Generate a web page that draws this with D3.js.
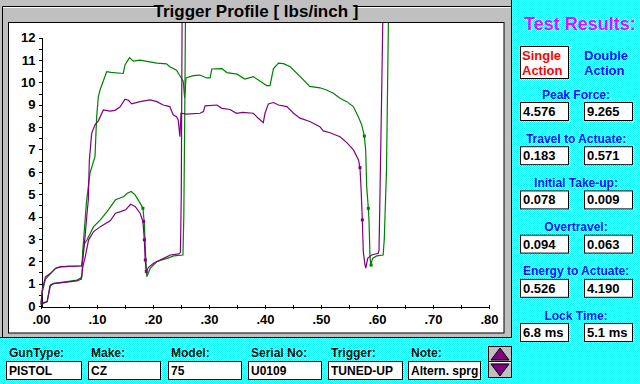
<!DOCTYPE html>
<meta charset="utf-8">
<style>
body { margin: 0; background: #fff; }
svg { display: block; font-family: "Liberation Sans", Arial, sans-serif; }
.axis text { font-size: 13px; font-weight: bold; fill: #000; }
.axis path, .axis line { stroke: #000; stroke-width: 1px; shape-rendering: crispEdges; }
</style>
<body>
<script src="https://d3js.org/d3.v7.min.js"></script>
<script>
// traces: [travel inch, force lbs]
var purpleSA = [[0,0.1],[0.005,0.15],[0.011,0.2],[0.016,0.9],[0.022,1.0],[0.046,1.07],[0.064,1.12],[0.072,1.2],[0.075,1.8],[0.079,2.2],[0.085,2.96],[0.094,3.33],[0.106,3.55],[0.124,3.82],[0.133,4.15],[0.142,4.22],[0.151,4.3],[0.16,4.55],[0.168,4.45],[0.177,4.15],[0.182,3.78],[0.1845,2.96],[0.186,2.06],[0.188,1.54],[0.192,1.73],[0.201,1.91],[0.219,2.13],[0.231,2.28],[0.246,2.33],[0.249,2.4],[0.2505,5],[0.252,13]];
var greenSA = [[0,0.05],[0.005,0.12],[0.011,0.19],[0.017,0.94],[0.023,1.01],[0.046,1.09],[0.064,1.16],[0.07,1.24],[0.073,1.31],[0.075,2.5],[0.078,2.8],[0.082,2.95],[0.094,3.55],[0.106,3.85],[0.118,4.22],[0.133,4.75],[0.148,4.9],[0.154,5.04],[0.161,5.12],[0.168,4.97],[0.177,4.6],[0.182,4.37],[0.1845,3.7],[0.187,2.2],[0.189,1.31],[0.195,1.69],[0.207,1.99],[0.225,2.13],[0.237,2.24],[0.2535,2.28],[0.255,4],[0.2565,8],[0.258,13]];
var purpleDA = [[0,0.05],[0.002,0.7],[0.008,1.3],[0.017,1.46],[0.026,1.69],[0.035,1.76],[0.05,1.77],[0.073,1.79],[0.076,2.4],[0.079,3.2],[0.082,4.1],[0.0845,4.74],[0.0863,6.5],[0.0905,7.72],[0.0964,8.1],[0.1024,8.28],[0.1113,8.77],[0.1232,8.72],[0.132,8.75],[0.141,8.9],[0.15,9.25],[0.156,9.2],[0.162,9.04],[0.177,9.14],[0.195,9.22],[0.207,9.14],[0.218,8.99],[0.23,8.92],[0.236,8.55],[0.242,8.47],[0.245,8.32],[0.248,7.57],[0.25,8.62],[0.26,8.58],[0.284,8.62],[0.29,8.7],[0.293,8.95],[0.314,8.99],[0.323,8.84],[0.3375,8.79],[0.349,8.62],[0.36,8.66],[0.379,8.62],[0.388,8.4],[0.397,8.2],[0.4,8.62],[0.406,9.04],[0.415,9.1],[0.424,8.99],[0.439,8.92],[0.451,8.62],[0.4625,8.4],[0.48,8.25],[0.498,8.02],[0.504,7.83],[0.516,7.75],[0.534,7.57],[0.546,7.31],[0.558,6.98],[0.567,6.53],[0.5696,6.19],[0.5714,5.34],[0.5738,3.85],[0.5755,2.43],[0.5786,1.83],[0.58,1.69],[0.5834,2.13],[0.5905,2.28],[0.6023,2.36],[0.6036,2.5],[0.606,6],[0.608,9],[0.6105,13]];
var greenDA = [[0,0.1],[0.002,0.6],[0.008,1.2],[0.017,1.45],[0.026,1.68],[0.035,1.75],[0.05,1.77],[0.073,1.8],[0.075,2.6],[0.078,3.6],[0.081,4.6],[0.0845,5.34],[0.0875,5.94],[0.0964,6.68],[0.0994,8.47],[0.1024,9.36],[0.1054,9.66],[0.1173,10.48],[0.125,10.45],[0.147,10.4],[0.15,10.78],[0.158,11.11],[0.165,10.95],[0.177,11.0],[0.189,10.94],[0.207,10.86],[0.224,10.83],[0.23,10.7],[0.242,10.55],[0.248,10.3],[0.254,10.05],[0.2565,9.3],[0.259,10.2],[0.272,10.3],[0.2836,10.33],[0.296,10.2],[0.302,10.2],[0.305,10.6],[0.323,10.62],[0.332,10.44],[0.35,10.37],[0.364,10.15],[0.379,10.26],[0.403,9.86],[0.409,9.86],[0.415,10.61],[0.424,10.86],[0.433,10.84],[0.445,10.7],[0.4625,10.27],[0.48,9.82],[0.498,9.76],[0.51,9.66],[0.522,9.52],[0.534,9.29],[0.546,9.14],[0.5577,8.92],[0.5666,8.47],[0.5727,8.1],[0.5774,7.6],[0.5798,6.98],[0.5816,5.34],[0.5845,4.37],[0.5857,3.85],[0.5875,2.2],[0.589,1.83],[0.592,2.13],[0.5995,2.24],[0.611,2.28],[0.613,3.0],[0.617,6.1],[0.6205,13]];
var purpleMarks = [[0.1833,3.78],[0.1845,2.96],[0.1863,2.06],[0.188,1.54],[0.5696,6.19],[0.5738,3.85]];
var greenMarks = [[0.182,4.37],[0.5774,7.6],[0.5845,4.37],[0.5895,1.83]];

var yTicks = d3.range(0, 12.01, 0.5);
var xTicks = d3.range(0, 0.801, 0.05);

var resultLabels = ["Peak Force:", "Travel to Actuate:", "Initial Take-up:", "Overtravel:", "Energy to Actuate:", "Lock Time:"];
var singleValues = ["4.576", "0.183", "0.078", "0.094", "0.526", "6.8 ms"];
var doubleValues = ["9.265", "0.571", "0.009", "0.063", "4.190", "5.1 ms"];

var infoLabels = ["GunType:", "Make:", "Model:", "Serial No:", "Trigger:", "Note:"];
var infoValues = ["PISTOL", "CZ", "75", "U0109", "TUNED-UP", "Altern. sprg"];
var infoBoxX = [6, 88, 168, 248, 328, 408];
var infoBoxW = [75, 72, 73, 73, 74, 72];

var width = 640, height = 384;

var svg = d3.select("body").append("svg")
    .attr("width", width)
    .attr("height", height);

var defs = svg.append("defs");
var pat = defs.append("pattern")
    .attr("id", "dither")
    .attr("width", 2).attr("height", 2)
    .attr("patternUnits", "userSpaceOnUse");
pat.append("rect").attr("width", 2).attr("height", 2).attr("fill", "#ffffff");
pat.append("rect").attr("width", 1).attr("height", 1).attr("fill", "#00ffff");
pat.append("rect").attr("x", 1).attr("y", 1).attr("width", 1).attr("height", 1).attr("fill", "#00ffff");

defs.append("clipPath").attr("id", "plotclip")
  .append("rect").attr("x", 9).attr("y", 23).attr("width", 495).attr("height", 310);

// cyan background
svg.append("rect").attr("width", width).attr("height", height).attr("fill", "url(#dither)");

// gray chart panel
svg.append("rect").attr("x", 0).attr("y", 0).attr("width", 512).attr("height", 338).attr("fill", "#c0c0c0");
svg.append("line").attr("x1", 511.5).attr("x2", 511.5).attr("y1", 0).attr("y2", 338).attr("stroke", "#000");
svg.append("line").attr("x1", 0).attr("x2", 512).attr("y1", 337.5).attr("y2", 337.5).attr("stroke", "#000");
svg.append("line").attr("x1", 2.5).attr("x2", 2.5).attr("y1", 6.5).attr("y2", 337).attr("stroke", "#000");
svg.append("path").attr("d", "M2.5,6.5H158M354,6.5H511").attr("stroke", "#000").attr("fill", "none");
svg.append("path").attr("d", "M3,7.5H158M354,7.5H511").attr("stroke", "#fff").attr("fill", "none");

svg.append("text")
    .attr("x", 256).attr("y", 17)
    .attr("text-anchor", "middle")
    .style("font-size", "17px").style("font-weight", "bold")
    .text("Trigger Profile [ lbs/inch ]");

// plot area
svg.append("rect").attr("x", 8.5).attr("y", 22.5).attr("width", 495.5).attr("height", 310.5)
    .attr("fill", "#fff").attr("stroke", "#000");

var x = d3.scaleLinear().domain([0, 0.8]).range([41, 489]);
var y = d3.scaleLinear().domain([0, 12]).range([306, 37.7]);

var yAxis = svg.append("g").attr("class", "axis")
    .attr("transform", "translate(41.5,0)")
    .call(d3.axisLeft(y).tickValues(yTicks).tickSize(3).tickSizeOuter(0).tickPadding(3)
        .tickFormat(function(d){ return Number.isInteger(d) ? d : ""; }));

var xAxis = svg.append("g").attr("class", "axis")
    .attr("transform", "translate(0,306.5)")
    .call(d3.axisBottom(x).tickValues(xTicks).tickSize(2).tickSizeOuter(0)
        .tickFormat(function(d){ return Math.round(d*100) % 10 === 0 ? d3.format(".2f")(d).replace(/^0/, "") : ""; }));
xAxis.selectAll(".tick line").attr("y1", -2).attr("y2", 2);
xAxis.selectAll(".tick text").attr("y", 8);

var line = d3.line()
    .x(function(d){ return x(d[0]); })
    .y(function(d){ return y(d[1]); });

var plot = svg.append("g").attr("clip-path", "url(#plotclip)");

[[greenDA, "#008000"], [greenSA, "#008000"], [purpleDA, "#800080"], [purpleSA, "#800080"]].forEach(function(s){
  plot.append("path")
    .datum(s[0])
    .attr("d", line)
    .attr("fill", "none")
    .attr("stroke", s[1])
    .attr("stroke-width", 1.2);
});

plot.selectAll(".gm").data(greenMarks).enter().append("rect")
    .attr("x", function(d){ return x(d[0]) - 1.5; })
    .attr("y", function(d){ return y(d[1]) - 1.5; })
    .attr("width", 3).attr("height", 3).attr("fill", "#008000");
plot.selectAll(".pm").data(purpleMarks).enter().append("rect")
    .attr("x", function(d){ return x(d[0]) - 1.5; })
    .attr("y", function(d){ return y(d[1]) - 1.5; })
    .attr("width", 3).attr("height", 3).attr("fill", "#800080");

// results panel
svg.append("text").attr("x", 524).attr("y", 30)
    .style("font-size", "18px").style("font-weight", "bold").attr("fill", "#ff00ff")
    .text("Test Results:");

svg.append("rect").attr("x", 520.5).attr("y", 46.5).attr("width", 48).attr("height", 32)
    .attr("fill", "#fff").attr("stroke", "#000");
svg.append("text").attr("x", 522).attr("y", 60).attr("fill", "#ff0000").style("font-size", "13px").style("font-weight", "bold").text("Single");
svg.append("text").attr("x", 522).attr("y", 75).attr("fill", "#ff0000").style("font-size", "13px").style("font-weight", "bold").text("Action");
svg.append("text").attr("x", 584).attr("y", 60).attr("fill", "#0000ff").style("font-size", "13px").style("font-weight", "bold").text("Double");
svg.append("text").attr("x", 584).attr("y", 75).attr("fill", "#0000ff").style("font-size", "13px").style("font-weight", "bold").text("Action");

var res = svg.append("g").selectAll("g").data(resultLabels).enter().append("g")
    .attr("transform", function(d, i){ return "translate(0," + (i * 44.2) + ")"; });
res.append("text").attr("x", 576).attr("y", 98.5).attr("text-anchor", "middle")
    .attr("fill", "#0000ff").style("font-size", "12px").style("font-weight", "bold")
    .text(function(d){ return d; });
res.append("rect").attr("x", 520.5).attr("y", 102.5).attr("width", 48).attr("height", 18)
    .attr("fill", "#fff").attr("stroke", "#000");
res.append("rect").attr("x", 584.5).attr("y", 102.5).attr("width", 48).attr("height", 18)
    .attr("fill", "#fff").attr("stroke", "#000");
res.append("text").attr("x", 523).attr("y", 116).style("font-size", "13px").style("font-weight", "bold")
    .text(function(d, i){ return singleValues[i]; });
res.append("text").attr("x", 587).attr("y", 116).style("font-size", "13px").style("font-weight", "bold")
    .text(function(d, i){ return doubleValues[i]; });

// info strip
var info = svg.append("g").selectAll("g").data(infoLabels).enter().append("g");
info.append("text").attr("x", function(d, i){ return infoBoxX[i] + 3; }).attr("y", 357)
    .style("font-size", "12px").style("font-weight", "bold").text(function(d){ return d; });
info.append("rect").attr("x", function(d, i){ return infoBoxX[i] + 0.5; }).attr("y", 361.5)
    .attr("width", function(d, i){ return infoBoxW[i]; }).attr("height", 18)
    .attr("fill", "#fff").attr("stroke", "#000");
info.append("text").attr("x", function(d, i){ return infoBoxX[i] + 3; }).attr("y", 375)
    .style("font-size", "12px").style("font-weight", "bold").text(function(d, i){ return infoValues[i]; });

// scroll button
var btn = svg.append("g");
btn.append("rect").attr("x", 488.5).attr("y", 346.5).attr("width", 23).attr("height", 31)
    .attr("fill", "#c0c0c0").attr("stroke", "#000");
btn.append("path").attr("d", "M491,360L500,348L509,360Z").attr("fill", "#800080").attr("stroke", "#000");
btn.append("path").attr("d", "M491,364L500,376L509,364Z").attr("fill", "#800080").attr("stroke", "#000");
btn.append("line").attr("x1", 489).attr("x2", 511).attr("y1", 361.5).attr("y2", 361.5).attr("stroke", "#000");
btn.append("line").attr("x1", 489).attr("x2", 511).attr("y1", 362.5).attr("y2", 362.5).attr("stroke", "#fff");
</script>
</body>
